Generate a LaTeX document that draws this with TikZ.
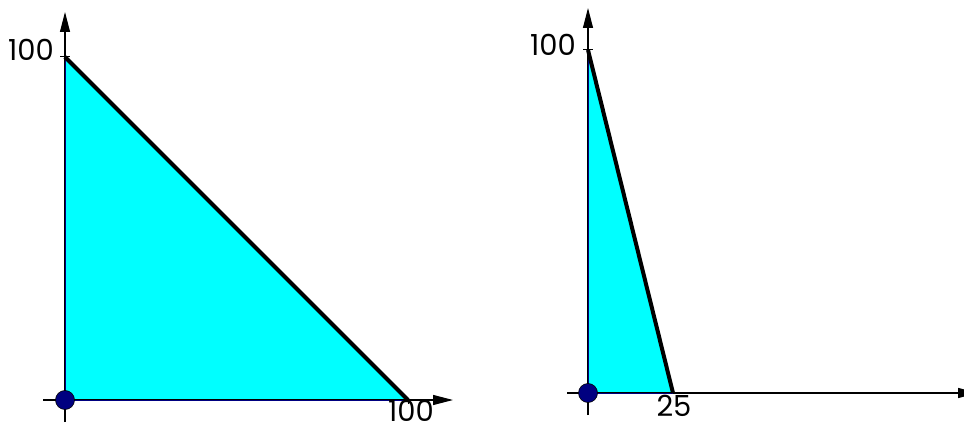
\documentclass[tikz,border=0pt]{standalone}
\usepackage{fontspec}
\setmainfont{Poppins}
\usetikzlibrary{arrows.meta}
\definecolor{fillcyan}{HTML}{00FFFF}
\definecolor{dotnavy}{HTML}{000080}
\tikzset{
  axis/.style={line width=1.1pt, black, -{Triangle[length=20pt,width=10pt]}},
  leg/.style={line width=1pt, dotnavy},
  hyp/.style={line width=4pt, black},
  tick/.style={line width=1pt, black},
  lbl/.style={inner sep=0pt, font=\fontsize{29}{32}\selectfont},
  origin/.style={circle, fill=dotnavy, draw=black, line width=0.6pt, minimum size=19pt, inner sep=0pt}
}
\begin{document}
\begin{tikzpicture}[x=1pt,y=-1pt]
\useasboundingbox (0,0) rectangle (964,430);
% ---------- left plot ----------
\coordinate (LO) at (65,400);
\coordinate (LY) at (65,57);
\coordinate (LX) at (408,400);
\coordinate (LyStart) at (65,422);
\coordinate (LyEnd) at (65,12);
\coordinate (LxStart) at (43,400);
\coordinate (LxEnd) at (453,400);
\fill[fillcyan] (LO) -- (LY) -- (LX) -- cycle;
\draw[axis] (LyStart) -- (LyEnd);
\draw[axis] (LxStart) -- (LxEnd);
\draw[leg] (LX) -- (LO) -- (LY);
\draw[hyp] (LY) -- (LX);
\draw[tick] (LY) -- ++(-5,0) (LY) -- ++(5,0);
\draw[tick] (LX) -- ++(0,4);
\node[lbl, anchor=east] (l100y) at (54,50) {100};
\node[lbl] (l100x) at (411,411) {100};
\node[origin] (Ldot) at (LO) {};
% ---------- right plot ----------
\coordinate (RO) at (588,393);
\coordinate (RY) at (588,50);
\coordinate (RX) at (673,393);
\coordinate (RyStart) at (588,415);
\coordinate (RyEnd) at (588,8);
\coordinate (RxStart) at (567,393);
\coordinate (RxEnd) at (978,393);
\fill[fillcyan] (RO) -- (RY) -- (RX) -- cycle;
\draw[axis] (RyStart) -- (RyEnd);
\draw[axis] (RxStart) -- (RxEnd);
\draw[leg] (RX) -- (RO) -- (RY);
\draw[hyp] (RY) -- (RX);
\draw[tick] (RY) -- ++(-5,0) (RY) -- ++(5,0);
\node[lbl, anchor=east] (r100y) at (576,45) {100};
\node[lbl] (r25x) at (674,406) {25};
\node[origin] (Rdot) at (RO) {};
\end{tikzpicture}
\end{document}
